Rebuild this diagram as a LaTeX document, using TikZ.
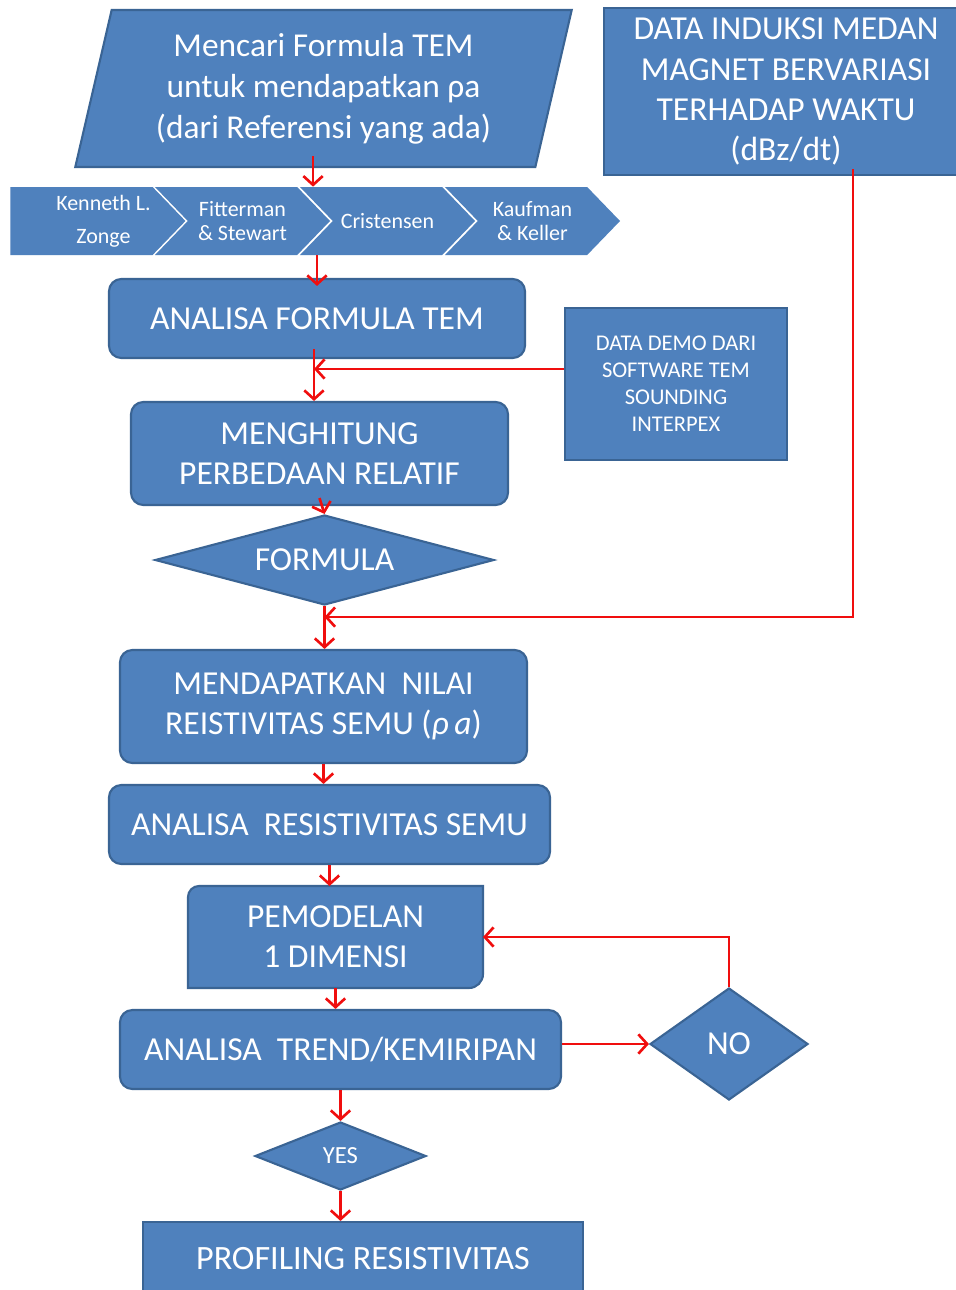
\documentclass[tikz,border=0pt]{standalone}
\usepackage{fontspec}
\setmainfont{Carlito}
\usetikzlibrary{positioning, arrows.meta, shapes.geometric, shapes.symbols, calc}
\definecolor{boxfill}{HTML}{4F81BD}
\definecolor{boxline}{HTML}{3A6494}
\definecolor{linkred}{HTML}{F00E0E}
\pgfdeclarelayer{background}
\pgfsetlayers{background,main}
\tikzset{
    every node/.style={text=white, align=center, inner sep=2pt},
    bigtext/.style={font=\fontsize{19.1}{22.8}\selectfont},
    process/.style={
        rectangle, rounded corners=7pt, draw=boxline, line width=1.2pt,
        fill=boxfill, bigtext,
    },
    datasrc/.style={
        rectangle, draw=boxline, line width=1.2pt, fill=boxfill, bigtext,
    },
    decision/.style={
        diamond, draw=boxline, line width=1.2pt, fill=boxfill, bigtext,
        inner sep=0pt,
    },
    source/.style={
        trapezium, trapezium left angle=76, trapezium right angle=104,
        trapezium stretches=true, draw=boxline, line width=1.2pt,
        fill=boxfill, font=\fontsize{19}{23.3}\selectfont,
    },
    refstage/.style={
        signal, signal to=east, signal from=west, signal pointer angle=92,
        fill=boxfill, minimum width=3.5cm, minimum height=1.36cm,
        inner sep=0pt, font=\fontsize{12.5}{14}\selectfont,
    },
    arr/.style={-{Straight Barb[length=5pt,width=11pt]}, linkred, line width=1.5pt},
}

\begin{document}
\begin{tikzpicture}

\useasboundingbox (0,0) rectangle (19.12,-25.8);

% ── Nodes ──────────────────────────────────────────────────────────
\node[source, minimum width=9.94cm, minimum height=3.14cm] (seek) at (6.47,-1.77)
    {Mencari Formula TEM\\untuk mendapatkan ρa\\(dari Referensi yang ada)};

\node[datasrc, minimum width=7.28cm, minimum height=3.34cm] (field) at (15.72,-1.83)
    {DATA INDUKSI MEDAN\\MAGNET BERVARIASI\\TERHADAP WAKTU\\(dBz/dt)};

% references, left to right
\node[refstage, signal from=nowhere] (ref1) at (1.63,-4.42) {};
\node[font=\fontsize{12.5}{14}\selectfont] (ref1txt) at (2.07,-4.42)
    {Kenneth L.\\[5pt]Zonge};
\node[refstage] (ref2) at (4.85,-4.42) {Fitterman\\\& Stewart};
\node[refstage] (ref3) at (7.75,-4.42) {Cristensen};
\node[refstage] (ref4) at (10.65,-4.42) {Kaufman\\\& Keller};

\node[process, minimum width=8.32cm, minimum height=1.58cm] (formtem) at (6.34,-6.37)
    {ANALISA FORMULA TEM};

\node[datasrc, minimum width=4.44cm, minimum height=3.04cm,
      font=\fontsize{12.8}{15.4}\selectfont] (demo) at (13.52,-7.68)
    {DATA DEMO DARI\\SOFTWARE TEM\\SOUNDING\\INTERPEX};

\node[process, minimum width=7.54cm, minimum height=2.06cm] (reldiff) at (6.39,-9.07)
    {MENGHITUNG\\PERBEDAAN RELATIF};

\node[decision, aspect=3.77, minimum width=6.78cm, minimum height=1.8cm] (formula)
    at (6.49,-11.2) {FORMULA};

\node[process, minimum width=8.14cm, minimum height=2.26cm] (rhoa) at (6.47,-14.13)
    {MENDAPATKAN\ \ NILAI\\REISTIVITAS SEMU ({\itshape ρ\,a})};

\node[process, minimum width=8.82cm, minimum height=1.58cm] (appres) at (6.59,-16.49)
    {ANALISA\ \ RESISTIVITAS SEMU};

\node[bigtext, minimum width=5.9cm, minimum height=2.04cm, outer sep=0pt] (model)
    at (6.71,-18.74) {PEMODELAN\\1 DIMENSI};

\node[process, minimum width=8.82cm, minimum height=1.58cm] (trend) at (6.81,-20.99)
    {ANALISA\ \ TREND/KEMIRIPAN};

\node[decision, aspect=1.41, minimum width=3.16cm, minimum height=2.24cm] (no)
    at (14.58,-20.88) {NO};

\node[decision, aspect=2.5, minimum width=3.42cm, minimum height=1.36cm,
      font=\fontsize{14}{16}\selectfont] (yes) at (6.81,-23.12) {YES};

\node[datasrc, minimum width=8.8cm, minimum height=1.48cm,
      font=\fontsize{19.4}{23}\selectfont] (profile) at (7.26,-25.18)
    {PROFILING RESISTIVITAS};

% page ground, then the box behind the 1-D model step (two round corners only)
\begin{pgfonlayer}{background}
\fill[white] (0,0) rectangle (19.12,-25.8);
\draw[fill=boxfill, draw=boxline, line width=1.2pt]
    (model.south west) -- ([yshift=-0.22cm]model.north west)
    arc[start angle=180, end angle=90, radius=0.22cm]
    -- (model.north east) -- ([yshift=0.28cm]model.south east)
    arc[start angle=0, end angle=-90, radius=0.28cm] -- cycle;
\end{pgfonlayer}

% ── Straight edges ─────────────────────────────────────────────────
\draw[arr] ([xshift=-2.1mm,yshift=2.4mm]seek.south)
    -- ([xshift=-2.1mm]seek.south |- ref2.north);
\draw[arr] (formtem.north |- ref2.south) -- ([yshift=-1.6mm]formtem.north);
\draw[arr] ([xshift=-0.6mm,yshift=2mm]formtem.south)
    -- ([xshift=-0.6mm]formtem.south |- reldiff.north);
\draw[arr] ([yshift=1.6mm]reldiff.south) -- (formula.north);
\draw[arr] (formula.south) -- (formula.south |- rhoa.north);
\draw[arr] (rhoa.south) -- (rhoa.south |- appres.north);
\draw[arr] (appres.south) -- (appres.south |- model.north);
\draw[arr] (model.south) -- (model.south |- trend.north);
\draw[arr] (trend.south) -- (yes.north);
\draw[arr] (yes.south) -- (yes.south |- profile.north);

% ── Demo data joins below ANALISA FORMULA TEM ─────────────────────
\draw[arr] ([yshift=3mm]demo.west)
    -- ([xshift=-0.6mm,yshift=3mm]demo.west -| formtem.south);

% ── dBz/dt data runs down to the FORMULA output ───────────────────
\draw[arr] ([xshift=13.4mm,yshift=1.4mm]field.south)
    |- ([yshift=-2.2mm]formula.south);

% ── Trend check: NO loops back to the model ──────────────────────
\draw[arr] (trend.east |- no.west) -- (no.west);
\draw[arr] (no.north) |- (model.east);

\end{tikzpicture}
\end{document}
